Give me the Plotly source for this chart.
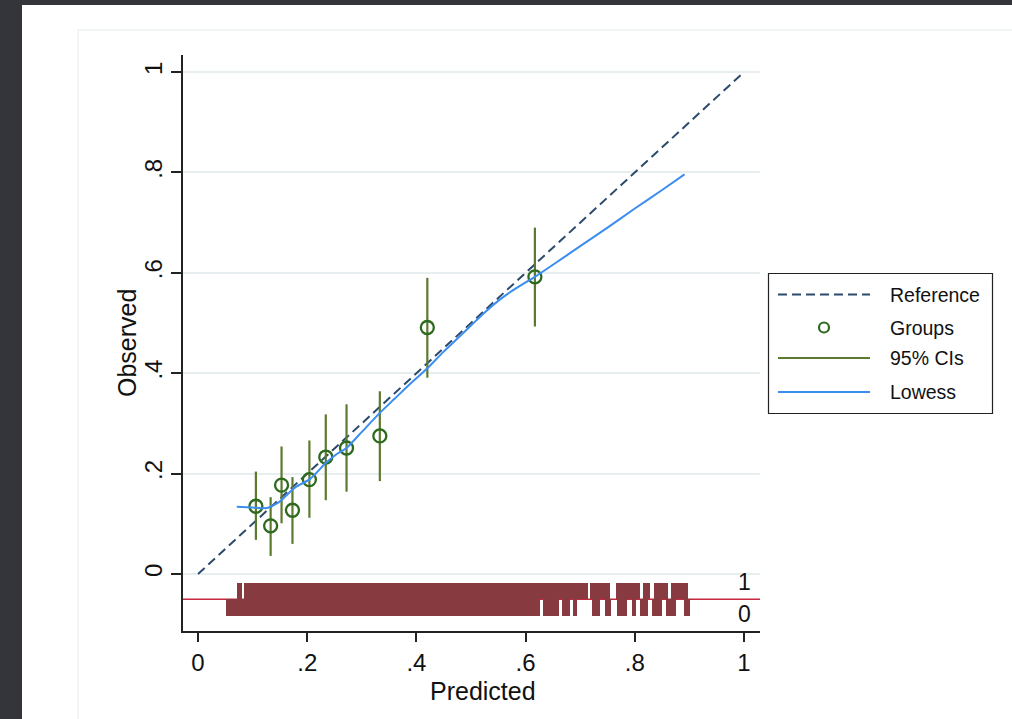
import plotly.graph_objects as go

# ---------------- data ----------------
ref_x = [0, 1]
ref_y = [0, 1]

grp_x = [0.106, 0.133, 0.153, 0.173, 0.204, 0.234, 0.272, 0.333, 0.420, 0.617]
grp_y = [0.135, 0.096, 0.177, 0.127, 0.188, 0.233, 0.251, 0.275, 0.491, 0.592]
ci_lo = [0.068, 0.036, 0.101, 0.060, 0.112, 0.147, 0.164, 0.185, 0.391, 0.493]
ci_hi = [0.204, 0.153, 0.254, 0.193, 0.266, 0.318, 0.338, 0.364, 0.590, 0.690]

lowess_x = [0.071, 0.090, 0.107, 0.120, 0.131, 0.142, 0.153, 0.165, 0.180, 0.205,
            0.234, 0.253, 0.272, 0.300, 0.333, 0.360, 0.382, 0.420, 0.450, 0.500,
            0.525, 0.552, 0.575, 0.600, 0.617, 0.650, 0.700, 0.750, 0.800, 0.850, 0.891]
lowess_y = [0.134, 0.133, 0.132, 0.131, 0.133, 0.139, 0.147, 0.160, 0.174, 0.189,
            0.221, 0.238, 0.251, 0.283, 0.321, 0.349, 0.372, 0.410, 0.443, 0.495,
            0.521, 0.546, 0.564, 0.581, 0.592, 0.616, 0.653, 0.690, 0.728, 0.765, 0.796]

# rug: spans of predicted values for outcome = 1 and outcome = 0
rug1_start = [0.072, 0.084, 0.717, 0.765, 0.815, 0.836, 0.867]
rug1_end   = [0.080, 0.714, 0.754, 0.809, 0.827, 0.860, 0.898]
rug0_start = [0.052, 0.631, 0.666, 0.686, 0.721, 0.745, 0.767, 0.794, 0.809, 0.831, 0.858, 0.890]
rug0_end   = [0.626, 0.662, 0.681, 0.695, 0.736, 0.757, 0.785, 0.803, 0.824, 0.849, 0.875, 0.901]

tick_vals = [0, 0.2, 0.4, 0.6, 0.8, 1]
tick_text = ["0", ".2", ".4", ".6", ".8", "1"]

legend_labels = ["Reference", "Groups", "95% CIs", "Lowess"]
x_title = "Predicted"
y_title = "Observed"

# ---------------- styling ----------------
C_REF = "#2c4a6b"
C_GRP = "#2e6a1e"
C_CI = "#5c7a2f"
C_LOW = "#3b8ef0"
C_RUG = "#873b40"
C_RUGLINE = "#c8283c"
C_DARK = "#33353a"
FONT = "Liberation Sans, Arial, Helvetica, sans-serif"

W, H = 1012, 719
ML, MR, MT, MB = 183, 252, 55, 88
PW, PH = W - ML - MR, H - MT - MB


def px(xp):
    return (xp - ML) / PW


def py(yp):
    return (H - MB - yp) / PH


RUG_MID = -0.0504
RUG_LEN = 0.0333

fig = go.Figure()

# rug bars
fig.add_trace(go.Bar(
    x=[(a + b) / 2 for a, b in zip(rug1_start, rug1_end)],
    y=[RUG_LEN] * len(rug1_start),
    width=[b - a for a, b in zip(rug1_start, rug1_end)],
    base=RUG_MID, marker=dict(color=C_RUG, line=dict(width=0)),
    showlegend=False, hoverinfo="skip"))
fig.add_trace(go.Bar(
    x=[(a + b) / 2 for a, b in zip(rug0_start, rug0_end)],
    y=[-RUG_LEN] * len(rug0_start),
    width=[b - a for a, b in zip(rug0_start, rug0_end)],
    base=RUG_MID, marker=dict(color=C_RUG, line=dict(width=0)),
    showlegend=False, hoverinfo="skip"))

# reference line
fig.add_trace(go.Scatter(x=ref_x, y=ref_y, mode="lines", name="Reference",
                         line=dict(color=C_REF, width=2, dash="9px,5px"),
                         showlegend=False))
# groups with CIs
fig.add_trace(go.Scatter(
    x=grp_x, y=grp_y, mode="markers", name="Groups",
    marker=dict(symbol="circle-open", size=13, color=C_GRP, line=dict(width=2.3)),
    error_y=dict(type="data", symmetric=False,
                 array=[h - y for h, y in zip(ci_hi, grp_y)],
                 arrayminus=[y - l for y, l in zip(grp_y, ci_lo)],
                 width=0, thickness=2.2, color=C_CI),
    showlegend=False))
# lowess
fig.add_trace(go.Scatter(x=lowess_x, y=lowess_y, mode="lines", name="Lowess",
                         line=dict(color=C_LOW, width=2, shape="spline", smoothing=0.6),
                         showlegend=False))

shapes = []
# white panel on dark surround
shapes.append(dict(type="rect", xref="paper", yref="paper", layer="below",
                   x0=px(22), x1=px(W + 5), y0=py(H + 5), y1=py(5),
                   fillcolor="white", line=dict(width=0)))
# faint inner frame
shapes.append(dict(type="rect", xref="paper", yref="paper", layer="below",
                   x0=px(78), x1=px(W + 20), y0=py(H + 20), y1=py(30),
                   fillcolor="rgba(0,0,0,0)", line=dict(color="#eef2f3", width=1.5)))
# rug baseline
shapes.append(dict(type="line", xref="paper", yref="y", x0=0, x1=1,
                   y0=RUG_MID, y1=RUG_MID, layer="below",
                   line=dict(color=C_RUGLINE, width=1.5)))

# manual legend
shapes.append(dict(type="rect", xref="paper", yref="paper",
                   x0=px(768.5), x1=px(992.5), y0=py(413.5), y1=py(273.5),
                   fillcolor="white", line=dict(color="#222222", width=1.2)))
leg_y = [294.5, 327.5, 358, 392]
shapes.append(dict(type="line", xref="paper", yref="paper", x0=px(778), x1=px(870),
                   y0=py(leg_y[0]), y1=py(leg_y[0]),
                   line=dict(color=C_REF, width=2, dash="9px,5px")))
shapes.append(dict(type="circle", xref="paper", yref="paper",
                   xsizemode="pixel", ysizemode="pixel",
                   xanchor=px(824), yanchor=py(leg_y[1]),
                   x0=-5, x1=5, y0=-5, y1=5,
                   line=dict(color=C_GRP, width=2.2), fillcolor="rgba(0,0,0,0)"))
shapes.append(dict(type="line", xref="paper", yref="paper", x0=px(778), x1=px(870),
                   y0=py(leg_y[2]), y1=py(leg_y[2]),
                   line=dict(color=C_CI, width=2.2)))
shapes.append(dict(type="line", xref="paper", yref="paper", x0=px(778), x1=px(870),
                   y0=py(leg_y[3]), y1=py(leg_y[3]),
                   line=dict(color=C_LOW, width=2)))

annotations = []
for lab, yy in zip(legend_labels, leg_y):
    annotations.append(dict(text=lab, xref="paper", yref="paper", x=px(888), y=py(yy),
                            xanchor="left", yanchor="middle", showarrow=False,
                            font=dict(family=FONT, size=19.5, color="#111111")))
annotations.append(dict(text="1", xref="x", yref="y", x=1.0, y=-0.016, showarrow=False,
                        xanchor="center", yanchor="middle",
                        font=dict(family=FONT, size=23, color="#111111")))
annotations.append(dict(text="0", xref="x", yref="y", x=1.0, y=-0.080, showarrow=False,
                        xanchor="center", yanchor="middle",
                        font=dict(family=FONT, size=23, color="#111111")))
# axis titles
annotations.append(dict(text=x_title, xref="paper", yref="paper", x=px(483), y=py(691),
                        xanchor="center", yanchor="middle", showarrow=False,
                        font=dict(family=FONT, size=25, color="#111111")))
annotations.append(dict(text=y_title, xref="paper", yref="paper", x=px(127), y=py(343),
                        xanchor="center", yanchor="middle", showarrow=False, textangle=-90,
                        font=dict(family=FONT, size=25, color="#111111")))

fig.update_layout(
    width=W, height=H,
    margin=dict(l=ML, r=MR, t=MT, b=MB, pad=0),
    paper_bgcolor=C_DARK,
    plot_bgcolor="white",
    barmode="overlay",
    bargap=0,
    showlegend=False,
    shapes=shapes,
    annotations=annotations,
    font=dict(family=FONT, color="#111111"),
    xaxis=dict(range=[-0.0275, -0.0275 + PW / 546.0],
               tickvals=tick_vals, ticktext=tick_text,
               showgrid=False, zeroline=False,
               showline=True, linecolor="#222222", linewidth=1.5,
               ticks="outside", ticklen=9, tickwidth=1.5, tickcolor="#222222",
               tickfont=dict(size=24)),
    yaxis=dict(range=[-(H - MB - 574) / 502.0, (574 - MT) / 502.0],
               tickvals=tick_vals, ticktext=tick_text, tickangle=-90,
               showgrid=True, gridcolor="#e6eef0", gridwidth=1.5,
               zeroline=False,
               showline=True, linecolor="#222222", linewidth=1.5,
               ticks="outside", ticklen=10, tickwidth=1.5, tickcolor="#222222",
               tickfont=dict(size=24)),
)

fig.write_html(
    "out.html",
    config={"displayModeBar": False},
    post_script="document.body.style.margin='0';document.body.style.background='%s';" % C_DARK,
)
